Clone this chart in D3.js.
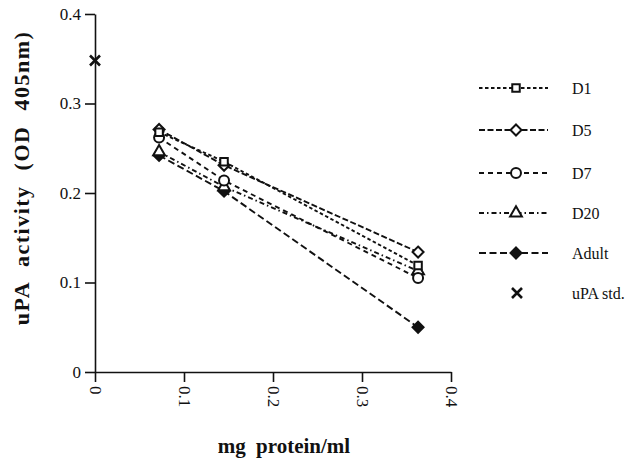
<!DOCTYPE html>
<html>
<head>
<meta charset="utf-8">
<script src="https://cdn.jsdelivr.net/npm/d3@7"></script>
<style>
    body { margin: 0; background: #fff; }
    svg { display: block; }
    text { font-family: "Liberation Serif", "Times New Roman", serif; fill: #111; }
</style>
</head>
<body>
<svg id="chart" width="627" height="461"></svg>
<script>
// doses (mg protein/ml)
const doses = [0.072, 0.145, 0.363];
const seriesNames = ["D1", "D5", "D7", "D20", "Adult"];
const d1 = [0.268, 0.235, 0.119];
const d5 = [0.271, 0.231, 0.134];
const d7 = [0.262, 0.214, 0.105];
const d20 = [0.246, 0.207, 0.113];
const adult = [0.242, 0.202, 0.050];
const upaStd = { dose: 0, value: 0.348 };
const tickValues = [0, 0.1, 0.2, 0.3, 0.4];

const svg = d3.select("#chart");

const xScale = d3.scaleLinear().domain([0, 0.4]).range([95, 451]);
const yScale = d3.scaleLinear().domain([0, 0.4]).range([372, 14]);
const fmt = d => d === 0 ? "0" : d3.format(".1f")(d);

const styles = {
    D1: { dash: "3.5,2.5", symbol: d3.symbolSquare, size: 56, fill: "#fff" },
    D5: { dash: "6,2.5", symbol: "diamond", size: 5.5, fill: "#fff" },
    D7: { dash: "5,4", symbol: d3.symbolCircle, size: 78, fill: "#fff" },
    D20: { dash: "5,3,1.5,3", symbol: d3.symbolTriangle, size: 60, fill: "#fff" },
    Adult: { dash: "7,3.5", symbol: "diamond", size: 5.5, fill: "#111" }
};
const values = { D1: d1, D5: d5, D7: d7, D20: d20, Adult: adult };

function markerPath(st) {
    if (st.symbol === "diamond") {
        const s = st.size;
        return `M0,${-s}L${s},0L0,${s}L${-s},0Z`;
    }
    return d3.symbol().type(st.symbol).size(st.size)();
}

// axes
const yAxis = svg.append("g")
    .attr("transform", `translate(${xScale(0)},0)`)
    .call(d3.axisLeft(yScale).tickValues(tickValues).tickFormat(fmt).tickSize(10).tickSizeOuter(0).tickPadding(4));
yAxis.selectAll("text").style("font-size", "17px");

const xAxis = svg.append("g")
    .attr("transform", `translate(0,${yScale(0)})`)
    .call(d3.axisBottom(xScale).tickValues(tickValues).tickFormat(fmt).tickSize(10).tickSizeOuter(0));
xAxis.selectAll("text")
    .style("font-size", "17px")
    .attr("transform", "rotate(90)")
    .attr("text-anchor", "start")
    .attr("x", 14)
    .attr("y", 0)
    .attr("dy", "0.33em");

svg.selectAll(".domain, .tick line").attr("stroke", "#111").attr("stroke-width", 1.6);

// lines
const line = d3.line().x((d, i) => xScale(doses[i])).y(d => yScale(d));
const plot = svg.append("g");
seriesNames.forEach(name => {
    const st = styles[name];
    plot.append("path")
        .attr("d", line(values[name]))
        .attr("fill", "none")
        .attr("stroke", "#111")
        .attr("stroke-width", 1.9)
        .attr("stroke-dasharray", st.dash);
});
// markers drawn back to front so D1 ends up on top
seriesNames.slice().reverse().forEach(name => {
    const st = styles[name];
    plot.selectAll(null)
        .data(values[name])
        .join("path")
        .attr("transform", (d, i) => `translate(${xScale(doses[i])},${yScale(d)})`)
        .attr("d", markerPath(st))
        .attr("fill", st.fill)
        .attr("stroke", "#111")
        .attr("stroke-width", 2);
});

// uPA standard cross
const cross = "M-5,-5L5,5M5,-5L-5,5";
plot.append("path")
    .attr("transform", `translate(${xScale(upaStd.dose)},${yScale(upaStd.value)})`)
    .attr("d", cross)
    .attr("stroke", "#111")
    .attr("stroke-width", 2.6);

// legend
const legendY = [88, 130, 173, 213, 253];
const legend = svg.append("g");
seriesNames.forEach((name, i) => {
    const st = styles[name];
    const g = legend.append("g").attr("transform", `translate(0,${legendY[i]})`);
    g.append("line")
        .attr("x1", 479).attr("x2", 548)
        .attr("stroke", "#111").attr("stroke-width", 1.9)
        .attr("stroke-dasharray", st.dash);
    g.append("path")
        .attr("transform", "translate(516,0)")
        .attr("d", markerPath(st))
        .attr("fill", st.fill)
        .attr("stroke", "#111")
        .attr("stroke-width", 2);
    g.append("text")
        .attr("x", 572).attr("y", 6)
        .style("font-size", "16px")
        .text(name);
});
const stdRow = legend.append("g").attr("transform", "translate(0,293)");
stdRow.append("path")
    .attr("transform", "translate(517,0)")
    .attr("d", cross)
    .attr("stroke", "#111")
    .attr("stroke-width", 2.6);
stdRow.append("text")
    .attr("x", 572).attr("y", 6)
    .style("font-size", "16px")
    .text("uPA std.");

// axis titles
svg.append("text")
    .attr("x", 284).attr("y", 453)
    .attr("text-anchor", "middle")
    .style("font-size", "21px")
    .style("font-weight", "bold")
    .style("word-spacing", "5px")
    .text("mg protein/ml");

svg.append("text")
    .attr("transform", "translate(29,178) rotate(-90)")
    .attr("text-anchor", "middle")
    .style("font-size", "22px")
    .style("font-weight", "bold")
    .style("word-spacing", "8px")
    .style("letter-spacing", "1.5px")
    .text("uPA activity (OD 405nm)");
</script>
</body>
</html>
